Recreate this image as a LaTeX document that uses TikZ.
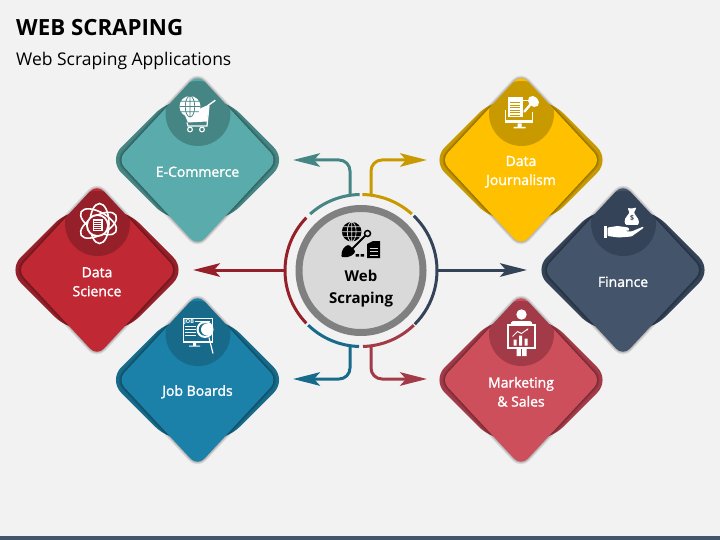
\documentclass[tikz,border=0pt]{standalone}
\usepackage{fontspec}
\setmainfont{Open Sans}
\newfontfamily\cardfont[FakeBold=1.6]{Open Sans}
\usetikzlibrary{arrows.meta,positioning}

\definecolor{pagegrey}{HTML}{F2F2F2}
\definecolor{barblue}{HTML}{44546A}
\definecolor{ecomfront}{HTML}{5AABAB}
\definecolor{ecomdark}{HTML}{458584}
\definecolor{journfront}{HTML}{FFC000}
\definecolor{journdark}{HTML}{C99A00}
\definecolor{finfront}{HTML}{44546A}
\definecolor{findark}{HTML}{344357}
\definecolor{markfront}{HTML}{CC4F5B}
\definecolor{markdark}{HTML}{A33A47}
\definecolor{scifront}{HTML}{C02833}
\definecolor{scidark}{HTML}{962029}
\definecolor{jobfront}{HTML}{1B81A9}
\definecolor{jobdark}{HTML}{176A8A}
\definecolor{hubfill}{HTML}{D9D9D9}
\definecolor{hubring}{HTML}{808080}

\newcommand{\backpath}{(-89,0) -- (-29,-60) -- (29,-60) -- (89,0) -- (29,60) -- (-29,60) -- cycle}
\newcommand{\frontpath}{(-80,0) -- (0,-86) -- (80,0) -- (0,86) -- cycle}

\newcommand{\carddiamond}[6]{
	\begin{scope}[shift={(#2)}]
		\coordinate (#1) at (0,0);
		\fill[#4,rounded corners=18pt] \backpath;
		\foreach \w in {5,3,1}
			\draw[black,opacity=.1,line width=\w pt,rounded corners=10pt] \frontpath;
		\fill[#3,rounded corners=10pt] \frontpath;
		\begin{scope}
			\clip[rounded corners=10pt] \frontpath;
			\fill[#4] (0.5,-46.5) circle (32.5);
		\end{scope}
		\node[cardtext] (#1text) at (0,11.8) {#5};
		\begin{scope}[shift={(0.5,-46.5)}]
			#6
		\end{scope}
	\end{scope}
}

\newcommand{\globemark}[4]{
	\begin{scope}[shift={(#1)}]
		\fill[#3] (0,0) circle (#2);
		\draw[#4,line width=.7pt] (0,0) ellipse ({.45*#2} and #2)
			(-#2,0) -- (#2,0) (0,-#2) -- (0,#2)
			({-.85*#2},{-.5*#2}) -- ({.85*#2},{-.5*#2})
			({-.85*#2},{.5*#2}) -- ({.85*#2},{.5*#2});
	\end{scope}
}

\newcommand{\carticon}{
	\fill[white] (-13,2) -- (11,-9) -- (9,8) -- (-10,9) -- cycle;
	\globemark{-8,-7}{10.5}{white}{ecomdark}
	\draw[white,line width=1.4pt,line cap=round] (10,-8) -- (17,-13);
	\draw[white,line width=1.2pt] (-11,9) -- (-10,12.5) -- (9,12.5) -- (11,-8);
	\draw[white,line width=1.1pt] (-8,16) circle (2.4) (4,16) circle (2.4);
}
\newcommand{\micicon}{
	\draw[white,line width=1.2pt] (-16,-3) -- (-16,8.5) -- (11,8.5) -- (11,-1);
	\fill[white] (-16,7) rectangle (11,10);
	\fill[white] (-4,10) rectangle (0,14) (-8,13.5) rectangle (4,15);
	\fill[white] (-14,-16.5) rectangle (1,4);
	\foreach \y in {-11,-8.5,-6,-3.5,-1,1.5}
		\draw[journdark,line width=.8pt] (-11.5,\y) -- (-1.5,\y);
	\draw[white,line width=1pt] (1,-13) -- (6,-13);
	\draw[white,line width=2.4pt,line cap=round] (9,-9) -- (3,-2);
	\fill[white,rotate around={45:(12,-12)}] (12,-12) ellipse (4.6 and 6.2);
}
\newcommand{\handicon}{
	\fill[white,rounded corners=1pt] (4,-8) .. controls (0,-4) and (1,1) .. (4,1.5) -- (13,1.5)
		.. controls (16,1) and (16,-4) .. (12,-8) -- (10.5,-11) -- (13,-16) -- (8,-15) -- (4,-15.5) -- (6,-11) -- cycle;
	\node[text=findark,font=\bfseries\fontsize{7}{7}\selectfont,inner sep=0pt] (bagdollar) at (8.5,-5) {\$};
	\fill[white] (-20,3) rectangle (-17,14);
	\fill[white,rounded corners=1pt] (-16,4) -- (-6,2.5) -- (5,4) -- (6,7) -- (-1,7.5) -- (8,8) -- (20,3) -- (20,4.5) -- (8,13) -- (-5,14) -- (-16,12.5) -- cycle;
}
\newcommand{\presenticon}{
	\fill[white] (0,-19) circle (5.2);
	\fill[white,rounded corners=1.5pt] (-11,-8) -- (-10,-12.5) -- (10,-12.5) -- (11,-8) -- cycle;
	\fill[white] (-5,15) rectangle (-0.6,22.5) (0.6,15) rectangle (5,22.5);
	\fill[markdark] (-14,-9) rectangle (14,15);
	\draw[white,line width=1.6pt] (-13.5,-8.5) rectangle (13.5,14.5);
	\fill[white] (-8,6) rectangle (-5,12) (-2.5,2) rectangle (0.5,12) (3,5) rectangle (6,12);
	\draw[white,line width=.9pt,-{Stealth[length=2.5pt]}] (-9,3) -- (-4,-2) -- (0,0) -- (7,-5);
}
\newcommand{\atomicon}{
	\foreach \r in {30,90,150}
		\draw[white,line width=1.6pt,rotate=\r] (0,2) ellipse (20 and 9.5);
	\fill[white] (0,2) circle (11.5);
	\fill[scidark] (0,2) circle (9.5);
	\fill[white] (-5,-4) rectangle (5,8);
	\foreach \y in {-2,0,2,4,6}
		\draw[scidark,line width=.5pt] (-3.5,\y) -- (3.5,\y);
}
\newcommand{\jobicon}{
	\fill[white] (-15.5,-16) rectangle (15,9);
	\fill[jobdark] (-14,-14.5) rectangle (13.5,7.5);
	\node[text=white,font=\bfseries\fontsize{5.5}{5.5}\selectfont,inner sep=0pt] (jobword) at (-9,-11) {JOB};
	\foreach \y in {-7,-4,-1,2}
		\draw[white,line width=.9pt] (-13,\y) -- (-2,\y);
	\draw[white,line width=.5pt] (-3,-12) -- (12,-12);
	\fill[white] (-5,9) rectangle (-2,12) (-9,12) rectangle (2,13);
	\fill[white] (7,-4) circle (8.5);
	\fill[jobdark] (7,-4) circle (6.3);
	\fill[white] (9,-4) circle (6);
	\draw[white,line width=1.2pt] (11,4) -- (15,20);
}
\newcommand{\spadeicon}{
	\globemark{351.7,231.7}{9.8}{black}{hubfill}
	\draw[black,line width=1.8pt] (352,249) -- (365.5,235.5);
	\draw[black,line width=1.5pt] (367.5,233.5) circle (3);
	\fill[black,rounded corners=1pt] (341.5,257) .. controls (341,250) and (345,245.5) .. (349,245) -- (355,250.5) .. controls (355,254) and (349,258.5) .. (341.5,257) -- cycle;
	\fill[black] (355.5,254) rectangle (359,256.5) (360.5,254) rectangle (364,256.5);
	\fill[black] (367,244) -- (373,241) -- (380,241) -- (380,258) -- (367,258) -- cycle;
	\foreach \y in {248,251.5,255}
		\draw[hubfill,line width=.9pt] (369.5,\y) -- (377.5,\y);
}

\begin{document}
\begin{tikzpicture}[x=1pt,y=-1pt,
	cardtext/.style={text=white,align=center,font=\cardfont\fontsize{14}{19}\selectfont,inner sep=0pt},
	linker/.style={line width=3pt,rounded corners=11pt,-{Stealth[length=27pt,width=13.5pt,inset=6pt]}}]
	\useasboundingbox (0,0) rectangle (720,540);
	\fill[pagegrey] (0,0) rectangle (720,540);
	\fill[barblue] (0,536) rectangle (720,540);
	\node[anchor=west,inner sep=0pt,font=\bfseries\fontsize{22.3}{23}\selectfont] (maintitle) at (16,28) {WEB SCRAPING};
	\node[anchor=west,inner sep=0pt,font=\fontsize{17.5}{18}\selectfont] (subtitle) at (16,60.5) {Web Scraping Applications};

	\carddiamond{ecom}{197.5,160}{ecomfront}{ecomdark}{E-Commerce}{\carticon}
	\carddiamond{journ}{521,160}{journfront}{journdark}{Data\\Journalism}{\micicon}
	\carddiamond{fin}{623,270}{finfront}{findark}{Finance}{\handicon}
	\carddiamond{mark}{521,380}{markfront}{markdark}{Marketing\\\& Sales}{\presenticon}
	\carddiamond{sci}{97,270}{scifront}{scidark}{Data\\Science}{\atomicon}
	\carddiamond{job}{197.5,380}{jobfront}{jobdark}{Job Boards}{\jobicon}

	\node[circle,draw=hubring,fill=hubfill,line width=7pt,minimum size=124pt,inner sep=0pt] (hub) at (361,270.5) {};
	\spadeicon
	\node[align=center,inner sep=0pt,font=\bfseries\fontsize{15}{22}\selectfont] (hubtext) at (361,289) {Web\\Scraping};

	\foreach \col/\from/\to in {ecomdark/-91/-132,journdark/-89/-48,findark/-46/45,markdark/46/88.5,jobdark/91.5/134,scidark/136/224}
		\draw[color=\col,line width=3pt] ([shift={(\from:76)}]hub.center) arc[start angle=\from,end angle=\to,radius=76];

	\coordinate (ecomfrom) at (350,195);
	\coordinate (ecomto) at (293,160);
	\coordinate (journfrom) at (371,195);
	\coordinate (journto) at (427,160);
	\coordinate (finfrom) at (437,270);
	\coordinate (finto) at (527,270);
	\coordinate (markfrom) at (371,346);
	\coordinate (markto) at (427,379);
	\coordinate (jobfrom) at (350,346);
	\coordinate (jobto) at (293,379);
	\coordinate (scifrom) at (285,270);
	\coordinate (scito) at (193,270);
	\draw[linker,ecomdark] (ecomfrom) |- (ecomto);
	\draw[linker,journdark] (journfrom) |- (journto);
	\draw[linker,findark] (finfrom) -- (finto);
	\draw[linker,markdark] (markfrom) |- (markto);
	\draw[linker,jobdark] (jobfrom) |- (jobto);
	\draw[linker,scidark] (scifrom) -- (scito);
\end{tikzpicture}
\end{document}
